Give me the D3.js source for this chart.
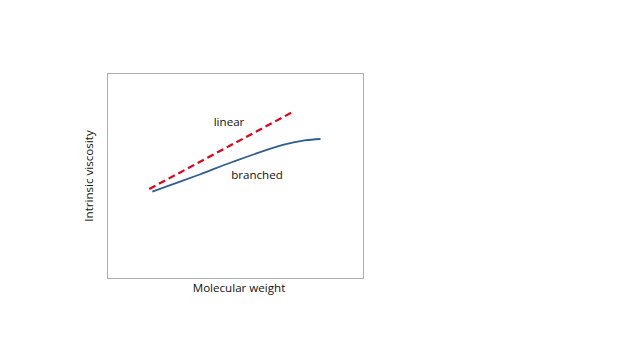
<!DOCTYPE html>
<html><head><meta charset="utf-8">
<script src="https://cdn.jsdelivr.net/npm/d3@7"></script>
<style>body{margin:0;background:#fff}svg{display:block}</style>
</head><body>
<svg id="c" width="640" height="360"></svg>
<script>
// data (abstract units, no axis ticks shown)
const linearX = [1.65, 7.3];
const linearY = [4.34, 8.13];
const branchedX = [1.77, 3.62, 4.92, 6.87, 7.72, 8.34];
const branchedY = [4.21, 5.05, 5.67, 6.49, 6.71, 6.78];
const seriesLabels = ["linear", "branched"];
const xTitle = "Molecular weight";
const yTitle = "Intrinsic viscosity";

const svg = d3.select("#c");
const m = {l: 107, r: 363, t: 73, b: 278};
const x = d3.scaleLinear().domain([0, 10]).range([m.l, m.r]);
const y = d3.scaleLinear().domain([0, 10]).range([m.b, m.t]);

svg.append("rect").attr("x", m.l + 0.5).attr("y", m.t + 0.5)
  .attr("width", m.r - m.l).attr("height", m.b - m.t)
  .attr("fill", "none").attr("stroke", "#a6aeb6").attr("stroke-width", 1);

const line = d3.line().x(d => x(d[0])).y(d => y(d[1]));
svg.append("path").datum(d3.zip(linearX, linearY))
  .attr("d", line).attr("fill", "none").attr("stroke", "#e3001b")
  .attr("stroke-width", 2.2).attr("stroke-dasharray", "7,4");

svg.append("path").datum(d3.zip(branchedX, branchedY))
  .attr("d", line.curve(d3.curveCatmullRom.alpha(0.5))).attr("fill", "none").attr("stroke", "#2f5f8f")
  .attr("stroke-width", 1.8);

const font = "'Open Sans', sans-serif";
const fs = 11.6;
svg.append("text").attr("x", 229).attr("y", 126).attr("text-anchor", "middle")
  .attr("font-family", font).attr("font-size", fs).attr("fill", "#111").text(seriesLabels[0]);
svg.append("text").attr("x", 257).attr("y", 179).attr("text-anchor", "middle")
  .attr("font-family", font).attr("font-size", fs).attr("fill", "#111").text(seriesLabels[1]);

svg.append("text").attr("x", 239).attr("y", 292).attr("text-anchor", "middle")
  .attr("font-family", font).attr("font-size", fs).attr("fill", "#111").text(xTitle);
svg.append("text").attr("transform", "translate(93,176) rotate(-90)").attr("text-anchor", "middle")
  .attr("font-family", font).attr("font-size", fs).attr("fill", "#111").text(yTitle);
</script>
</body></html>
